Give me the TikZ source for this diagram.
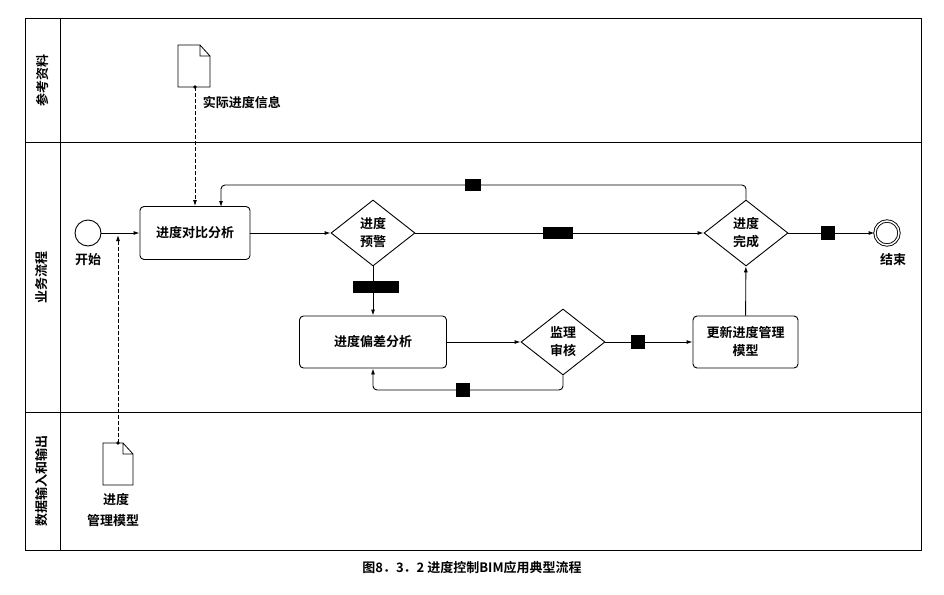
\documentclass[tikz,border=0pt]{standalone}
\usepackage{fontspec}
\newfontfamily\cjk{Noto Sans CJK SC}[BoldFont={Noto Sans CJK SC Bold}]
\usetikzlibrary{shapes.geometric,arrows.meta}
\begin{document}
\begin{tikzpicture}[x=1pt,y=-1pt,font=\cjk\bfseries\fontsize{13}{18}\selectfont,
 line width=0.9pt,
 box/.style={draw,rounded corners=4pt,align=center,inner sep=0pt},
 dia/.style={draw,diamond,aspect=1.25,minimum width=84pt,minimum height=66pt,inner sep=0pt,align=center},
 arr/.style={-{Latex[length=6pt,width=4pt]}},
 blk/.style={fill=black,inner sep=0pt},
 dsh/.style={dash pattern=on 4pt off 2pt,-{Latex[length=6pt,width=4pt]}}]
\useasboundingbox (0,0) rectangle (944,594);
\draw (25,18) rectangle (921,550);
\draw (60,18) -- (60,550);
\draw (25,142) -- (921,142) (25,412) -- (921,412);
\node[rotate=90] (l1) at (42,80) {参考资料};
\node[rotate=90] (l2) at (42,277) {业务流程};
\node[rotate=90] (l3) at (42,481) {数据输入和输出};
\node (cap) at (472,568) {图8．3．2 进度控制BIM应用典型流程};
\node[draw,circle,minimum size=26pt,inner sep=0pt] (s) at (88,233) {};
\node (st) at (88,260) {开始};
\node[box,minimum width=110pt,minimum height=53pt] (a) at (195,233) {进度对比分析};
\node[dia] (w) at (373,233) {进度\\预警};
\node[dia] (c) at (746,233) {进度\\完成};
\node[draw,circle,double,double distance=1.5pt,minimum size=24pt,inner sep=0pt] (e) at (887,233) {};
\node (et) at (893,260) {结束};
\node[box,minimum width=147pt,minimum height=52pt] (p) at (373,342) {进度偏差分析};
\node[dia] (j) at (563,342) {监理\\审核};
\node[box,minimum width=105pt,minimum height=52pt] (u) at (745.5,342) {更新进度管理\\模型};
\draw[arr] (s) -- (a);
\draw[arr] (a) -- (w);
\draw[arr] (w) -- (c);
\draw[arr] (c) -- (e);
\draw[arr] (w) -- (p);
\draw[arr] (p) -- (j);
\draw[arr] (j) -- (u);
\draw[arr] (u) -- (c);
\draw[arr,rounded corners=4pt] (c.north) -- (746,185) -- (221,185) -- (221,207);
\draw[arr,rounded corners=4pt] (j.south) -- (563,390) -- (373,390) -- (p.south);
\node[blk,minimum width=16pt,minimum height=12pt] (b1) at (473,185) {};
\node[blk,minimum width=30pt,minimum height=12pt] (b2) at (558,233) {};
\node[blk,minimum width=46pt,minimum height=12pt] (b3) at (376,287) {};
\node[blk,minimum width=14pt,minimum height=14pt] (b4) at (638,342) {};
\node[blk,minimum width=14pt,minimum height=14pt] (b5) at (463,390) {};
\node[blk,minimum width=14pt,minimum height=14pt] (b6) at (828,233) {};
% documents
\draw[line width=0.8pt,fill=white] (178,45) -- (200,45) -- (210,56) -- (210,87) -- (178,87) -- cycle (200,45) -- (200,56) -- (210,56);
\coordinate (d1) at (195,87);
\node[anchor=west] (t1) at (199,102) {实际进度信息};
\draw[dsh] (d1) -- (a.north -| d1);
\fill (d1) circle (1.8pt);
\draw[line width=0.8pt,fill=white] (103,443) -- (123,443) -- (133,454) -- (133,485) -- (103,485) -- cycle (123,443) -- (123,454) -- (133,454);
\coordinate (d2) at (118,443);
\coordinate (d2t) at (118,235);
\node (t2) at (116,500) {进度};
\node (t3) at (113,521) {管理模型};
\draw[dsh] (d2) -- (d2t);
\fill (d2) circle (1.8pt);
\end{tikzpicture}
\end{document}
